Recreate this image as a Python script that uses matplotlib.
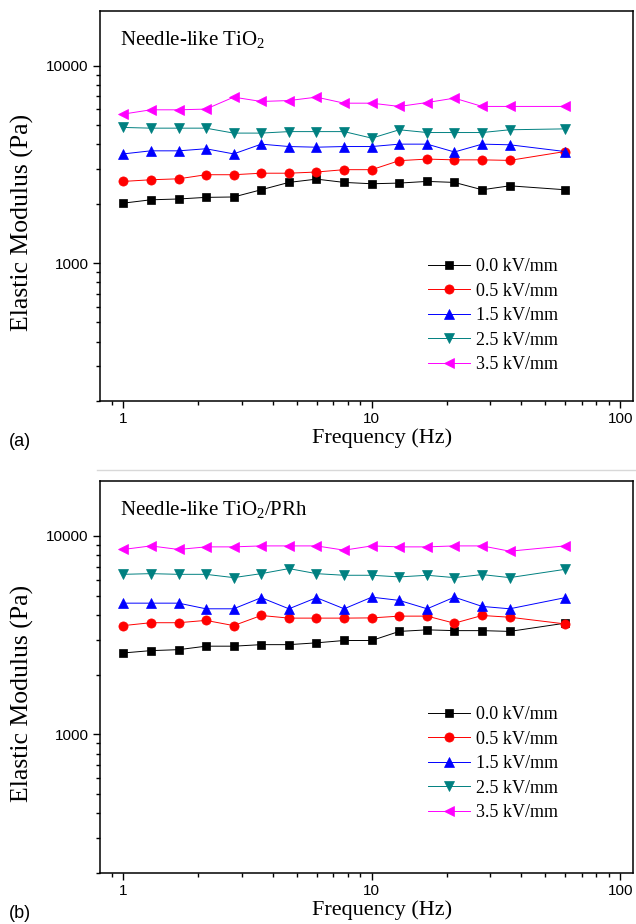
import matplotlib
matplotlib.use("Agg")
import matplotlib.pyplot as plt
import matplotlib.ticker as mticker
from matplotlib.lines import Line2D

plt.rcParams['font.family'] = ['Liberation Serif', 'DejaVu Serif']
plt.rcParams['mathtext.fontset'] = 'custom'
plt.rcParams['mathtext.rm'] = 'Liberation Serif'
plt.rcParams['mathtext.it'] = 'Liberation Serif:italic'

# ---------------- data ----------------
freq = [1, 1.29, 1.67, 2.15, 2.78, 3.59, 4.64, 5.99, 7.74, 10, 12.9, 16.7, 21.5, 27.8, 35.9, 59.9]
field_labels = ['0.0 kV/mm', '0.5 kV/mm', '1.5 kV/mm', '2.5 kV/mm', '3.5 kV/mm']

a_00 = [2010, 2090, 2110, 2150, 2160, 2350, 2560, 2660, 2560, 2520, 2540, 2590, 2560, 2350, 2460, 2350]
a_05 = [2590, 2640, 2670, 2800, 2800, 2850, 2850, 2890, 2970, 2970, 3300, 3360, 3330, 3330, 3310, 3670]
a_15 = [3570, 3700, 3700, 3790, 3570, 4000, 3890, 3860, 3890, 3890, 4000, 4000, 3650, 4000, 3970, 3670]
a_25 = [4860, 4820, 4820, 4820, 4550, 4550, 4630, 4630, 4630, 4290, 4730, 4580, 4580, 4580, 4730, 4780]
a_35 = [5680, 5970, 5970, 6020, 6920, 6580, 6650, 6920, 6450, 6450, 6210, 6500, 6840, 6210, 6210, 6210]

b_00 = [2570, 2640, 2670, 2780, 2780, 2830, 2830, 2890, 2970, 2970, 3300, 3360, 3330, 3330, 3300, 3630]
b_05 = [3530, 3650, 3650, 3750, 3530, 3970, 3850, 3850, 3850, 3860, 3940, 3940, 3630, 3970, 3890, 3600]
b_15 = [4580, 4580, 4580, 4290, 4290, 4880, 4290, 4880, 4290, 4910, 4730, 4290, 4910, 4410, 4290, 4880]
b_25 = [6400, 6450, 6400, 6400, 6160, 6450, 6840, 6450, 6330, 6330, 6210, 6330, 6160, 6380, 6160, 6780]
b_35 = [8540, 8900, 8540, 8800, 8800, 8900, 8900, 8900, 8470, 8900, 8800, 8800, 8900, 8900, 8370, 8900]

panel_a = [a_00, a_05, a_15, a_25, a_35]
panel_b = [b_00, b_05, b_15, b_25, b_35]
titles = ['Needle-like TiO$_{2}$', 'Needle-like TiO$_{2}$/PRh']
panel_tags = ['(a)', '(b)']
xticks = [1, 10, 100]
yticks = [1000, 10000]

colors = ['#000000', '#ff0000', '#0000ff', '#008080', '#ff00ff']
markers = ['s', 'o', '^', 'v', '<']
msizes = [5.7, 6.6, 7.4, 7.4, 7.4]

# ---------------- layout (pixels) ----------------
W, H = 636, 924
fig = plt.figure(figsize=(W / 100, H / 100), dpi=100)

def fx(x):
    return x / W

def fy(y):
    return 1 - y / H

ax_left, ax_right = 99.5, 632.5
panels = [(11, 401), (481, 873)]
legend_tops = [258, 706]

# faint separator between the two images
fig.add_artist(Line2D([fx(97), fx(636)], [fy(470), fy(470)], color='#d8d8d8', lw=1.0))

for i, (top, bot) in enumerate(panels):
    ax = fig.add_axes([fx(ax_left), fy(bot), fx(ax_right - ax_left), (bot - top) / H])
    data = panel_a if i == 0 else panel_b
    for vals, c, m, ms, lab in zip(data, colors, markers, msizes, field_labels):
        ax.plot(freq, vals, color=c, marker=m, markersize=ms, lw=0.7,
                markeredgewidth=0.5, label=lab)
    ax.set_xscale('log')
    ax.set_yscale('log')
    ax.set_xlim(0.802, 112)
    ax.set_ylim(200, 18900)
    ax.xaxis.set_major_locator(mticker.FixedLocator(xticks))
    ax.xaxis.set_major_formatter(mticker.FixedFormatter([str(t) for t in xticks]))
    ax.yaxis.set_major_locator(mticker.FixedLocator(yticks))
    ax.yaxis.set_major_formatter(mticker.FixedFormatter([str(t) for t in yticks]))
    ax.xaxis.set_minor_locator(mticker.LogLocator(base=10, subs=range(2, 10)))
    ax.yaxis.set_minor_locator(mticker.LogLocator(base=10, subs=range(2, 10)))
    ax.xaxis.set_minor_formatter(mticker.NullFormatter())
    ax.yaxis.set_minor_formatter(mticker.NullFormatter())
    ax.tick_params(which='both', direction='out', top=False, right=False, width=1.0)
    ax.tick_params(which='major', length=5, labelsize=11, pad=3)
    ax.tick_params(which='minor', length=3)
    for lbl in ax.get_xticklabels() + ax.get_yticklabels():
        lbl.set_fontfamily(['Liberation Sans', 'DejaVu Sans'])
    for sp in ax.spines.values():
        sp.set_linewidth(1.1)

    fig.text(fx(120), fy(top + 29), titles[i], fontsize=15, va='center', ha='left')

    fig.text(fx(22), fy((top + bot) / 2 + 16), 'Elastic Modulus (Pa)', fontsize=18.5,
             rotation=90, va='center', ha='center')
    fig.text(fx(382), fy(bot + 37), 'Frequency (Hz)', fontsize=16, va='center', ha='center')
    fig.text(fx(20), fy(bot + 40), panel_tags[i], fontsize=13, va='center', ha='center',
             family=['Liberation Sans', 'DejaVu Sans'])

    ax.legend(loc='upper left', bbox_to_anchor=(fx(428), fy(legend_tops[i])),
              bbox_transform=fig.transFigure, frameon=False, fontsize=13,
              borderpad=0, borderaxespad=0, handlelength=2.3, handletextpad=0.35,
              labelspacing=0.42)

fig.savefig('out.png', dpi=100)
